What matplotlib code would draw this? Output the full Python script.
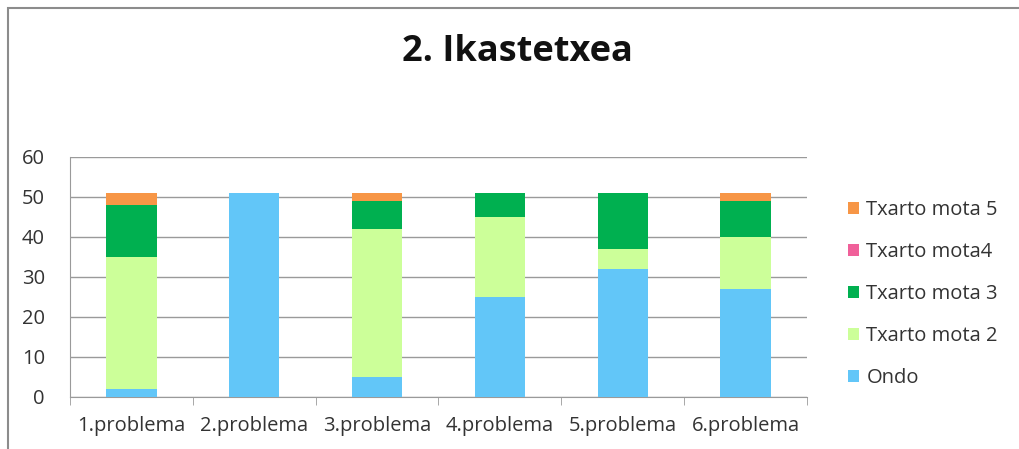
import matplotlib
matplotlib.use("Agg")
import matplotlib.pyplot as plt
from matplotlib.patches import Rectangle
import numpy as np

# Data
categories = ["1.problema", "2.problema", "3.problema", "4.problema", "5.problema", "6.problema"]
ondo = [2, 51, 5, 25, 32, 27]
txarto_2 = [33, 0, 37, 20, 5, 13]
txarto_3 = [13, 0, 7, 6, 14, 9]
txarto_4 = [0, 0, 0, 0, 0, 0]
txarto_5 = [3, 0, 2, 0, 0, 2]
series_names = ["Ondo", "Txarto mota 2", "Txarto mota 3", "Txarto mota4", "Txarto mota 5"]
title = "2. Ikastetxea"

colors = ["#62C6F8", "#CCFF99", "#00B050", "#F0609A", "#F79646"]

W, H = 1019, 449
fig = plt.figure(figsize=(W / 100, H / 100), dpi=100)
fig.patch.set_facecolor("white")

# chart frame (left and top edges visible)
fig.add_artist(Rectangle((8 / W, -0.1), 1.2, (H - 8) / H + 0.1, transform=fig.transFigure,
                         fill=False, edgecolor="#8C8C8C", linewidth=1.5))

ax = fig.add_axes([70 / W, (H - 397) / H, (807 - 70) / W, (397 - 157) / H])
x = np.arange(len(categories))
series = [ondo, txarto_2, txarto_3, txarto_4, txarto_5]
bottom = np.zeros(len(categories))
handles = []
for name, vals, c in zip(series_names, series, colors):
    vals = np.array(vals, dtype=float)
    b = ax.bar(x, vals, width=0.41, bottom=bottom, color=c, label=name, zorder=3)
    handles.append(b)
    bottom += vals

ax.set_xlim(-0.5, len(categories) - 0.5)
ax.set_ylim(0, 60)
ax.set_yticks(range(0, 61, 10))
ax.yaxis.grid(True, color="#9A9A9A", linewidth=1.0, zorder=0)
ax.set_axisbelow(True)

for s in ["top", "right"]:
    ax.spines[s].set_visible(False)
ax.spines["left"].set_color("#9A9A9A")
ax.spines["bottom"].set_color("#9A9A9A")

ax.set_xticks(x)
ax.set_xticklabels(categories)
ax.set_xticks(np.arange(-0.5, len(categories) + 0.5, 1), minor=True)
ax.tick_params(axis="x", which="major", length=0, pad=14, labelsize=14.5, labelcolor="#333333")
ax.tick_params(axis="x", which="minor", length=6, color="#9A9A9A", direction="out")
ax.tick_params(axis="y", length=0, pad=18, labelsize=14.5, labelcolor="#333333")
for lab in ax.get_xticklabels() + ax.get_yticklabels():
    lab.set_fontfamily("Open Sans")

fig.text(517 / W, 1 - 52 / H, title, ha="center", va="center",
         fontsize=26, fontweight="bold", family="Open Sans", color="#111111")

leg = fig.legend(handles[::-1], series_names[::-1], loc="center left",
                 bbox_to_anchor=(830 / W, 1 - 294 / H), frameon=False,
                 prop={"family": "Open Sans", "size": 14.5},
                 handlelength=0.55, handleheight=0.55, handletextpad=0.35,
                 labelspacing=1.1)
for t in leg.get_texts():
    t.set_color("#333333")

fig.savefig("out.png", dpi=100)
